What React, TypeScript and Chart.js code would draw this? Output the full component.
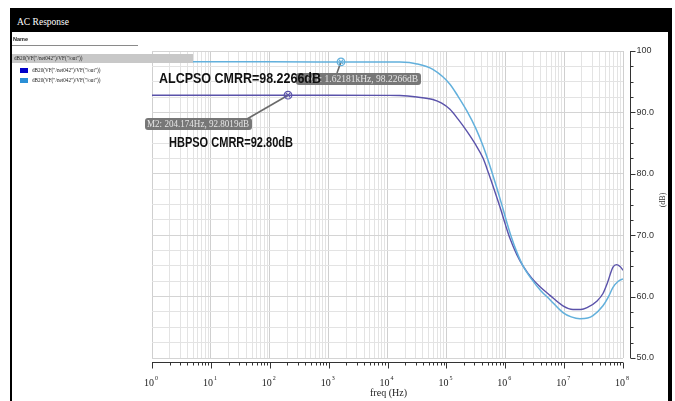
import React, { useEffect, useRef } from "react";
import { Chart, registerables } from "chart.js";

Chart.register(...registerables);

// ---- data ----
const freqALCPSO = [1, 10, 100, 1621.81, 1e4, 1.62e4, 3.16e4, 5.89e4, 1.15e5, 1.58e5, 2.24e5, 3.16e5, 4.17e5, 5.62e5, 7.24e5, 8.91e5, 1.07e6, 1.26e6, 1.58e6, 2.0e6, 2.82e6, 3.98e6, 5.75e6, 9.55e6, 1.32e7, 1.86e7, 2.51e7, 3.09e7, 4.57e7, 5.62e7, 6.76e7, 8.32e7, 1e8];
const dbALCPSO = [98.23, 98.23, 98.23, 98.2266, 98.22, 98.2, 97.9, 97.0, 94.6, 92.6, 90.2, 87.4, 84.6, 81.0, 77.6, 74.7, 72.0, 69.8, 67.2, 65.0, 62.8, 61.0, 59.5, 57.4, 56.7, 56.4, 56.5, 56.9, 58.5, 59.9, 61.5, 62.5, 62.9];

const freqHBPSO = [1, 10, 100, 204.174, 1e3, 1e4, 1.62e4, 3.16e4, 5.89e4, 8.32e4, 1.15e5, 1.58e5, 2.24e5, 3.16e5, 4.17e5, 5.25e5, 6.61e5, 8.32e5, 1.0e6, 1.2e6, 1.58e6, 2.0e6, 2.82e6, 3.89e6, 5.75e6, 9.55e6, 1.41e7, 1.91e7, 2.45e7, 3.63e7, 4.57e7, 5.37e7, 6.76e7, 7.76e7, 8.91e7, 1e8];
const dbHBPSO = [92.8, 92.8, 92.8, 92.8019, 92.8, 92.78, 92.75, 92.5, 92.1, 91.5, 90.5, 88.9, 86.9, 84.7, 82.6, 80.0, 77.2, 74.3, 71.8, 69.5, 66.8, 65.0, 63.0, 61.6, 60.2, 58.5, 57.9, 57.9, 58.2, 59.3, 60.5, 62.1, 64.8, 65.2, 64.9, 64.3];

const markerFreqs = [1621.81, 204.174];
const markerDbs = [98.2266, 92.8019];
const markerLabels = ["M1: 1.62181kHz, 98.2266dB", "M2: 204.174Hz, 92.8019dB"];
const annotationTexts = ["ALCPSO CMRR=98.2266dB", "HBPSO CMRR=92.80dB"];

const xDecadeExponents = [0, 1, 2, 3, 4, 5, 6, 7, 8];
const xMinorMultipliers = [1, 2, 3, 4, 5, 6, 7, 8, 9];
const yGridValues = [50, 52.5, 55, 57.5, 60, 62.5, 65, 67.5, 70, 72.5, 75, 77.5, 80, 82.5, 85, 87.5, 90, 92.5, 95, 97.5, 100];
const yTickValues = [100, 90, 80, 70, 60, 50];
const yTickLabels = ["100", "90.0", "80.0", "70.0", "60.0", "50.0"];
const xAxisTitle = "freq (Hz)";
const yAxisTitle = "(dB)";
const legendName = 'dB20(VF("/net042")/VF("/out"))';

const COLOR_A = "#62b0dc";
const COLOR_B = "#5a52aa";

function fitText(ctx: CanvasRenderingContext2D, text: string, x: number, y: number, width: number, alignRight = false) {
  const w = ctx.measureText(text).width;
  const sx = w > width ? width / w : 1;
  ctx.save();
  ctx.translate(x, y);
  ctx.scale(sx, 1);
  ctx.textAlign = alignRight ? "right" : "left";
  ctx.fillText(text, 0, 0);
  ctx.restore();
}

function roundRect(ctx: CanvasRenderingContext2D, x: number, y: number, w: number, h: number, r: number) {
  ctx.beginPath();
  ctx.moveTo(x + r, y);
  ctx.lineTo(x + w - r, y);
  ctx.quadraticCurveTo(x + w, y, x + w, y + r);
  ctx.lineTo(x + w, y + h - r);
  ctx.quadraticCurveTo(x + w, y + h, x + w - r, y + h);
  ctx.lineTo(x + r, y + h);
  ctx.quadraticCurveTo(x, y + h, x, y + h - r);
  ctx.lineTo(x, y + r);
  ctx.quadraticCurveTo(x, y, x + r, y);
  ctx.closePath();
}

const overlayPlugin = {
  id: "overlay",
  afterDraw(chart: any) {
    const ctx: CanvasRenderingContext2D = chart.ctx;
    const xs = chart.scales.x;
    const ys = chart.scales.y;
    const area = chart.chartArea;
    ctx.save();

    // ---- bottom axis ----
    const axY = Math.round(area.bottom) + 4.5;
    ctx.strokeStyle = "#333";
    ctx.lineWidth = 1;
    ctx.beginPath();
    ctx.moveTo(area.left, axY);
    ctx.lineTo(area.right, axY);
    ctx.stroke();
    xDecadeExponents.forEach((d) => {
      xMinorMultipliers.forEach((m) => {
        if (d === 8 && m > 1) return;
        const x = Math.round(xs.getPixelForValue(m * Math.pow(10, d))) + 0.5;
        const len = m === 1 ? 6 : 3;
        ctx.beginPath();
        ctx.moveTo(x, axY);
        ctx.lineTo(x, axY + len);
        ctx.stroke();
      });
      const x = xs.getPixelForValue(Math.pow(10, d));
      ctx.fillStyle = "#222";
      ctx.font = "10px 'Liberation Serif'";
      ctx.textAlign = "right";
      ctx.textBaseline = "alphabetic";
      ctx.fillText("10", x + 2, 386);
      ctx.font = "6px 'Liberation Serif'";
      ctx.textAlign = "left";
      ctx.fillText(String(d), x + 3, 380);
    });
    ctx.font = "10px 'Liberation Serif'";
    ctx.textAlign = "center";
    ctx.fillStyle = "#222";
    ctx.fillText(xAxisTitle, xs.getPixelForValue(1e4) + 1, 396);

    // ---- right axis ----
    const axX = Math.round(area.right) + 7.5;
    ctx.beginPath();
    ctx.moveTo(axX, ys.getPixelForValue(100));
    ctx.lineTo(axX, ys.getPixelForValue(50));
    ctx.stroke();
    yGridValues.forEach((v) => {
      const y = Math.round(ys.getPixelForValue(v)) + 0.5;
      const major = v % 10 === 0;
      ctx.beginPath();
      ctx.moveTo(axX, y);
      ctx.lineTo(axX + (major ? 5 : 3), y);
      ctx.stroke();
    });
    ctx.font = "9px 'Liberation Sans'";
    ctx.textAlign = "left";
    ctx.textBaseline = "middle";
    ctx.fillStyle = "#333";
    yTickValues.forEach((v, i) => {
      ctx.fillText(yTickLabels[i], axX + 6, ys.getPixelForValue(v));
    });
    ctx.save();
    ctx.translate(663, 200);
    ctx.rotate(-Math.PI / 2);
    ctx.textAlign = "center";
    ctx.font = "8px 'Liberation Serif'";
    ctx.fillText(yAxisTitle, 0, 0);
    ctx.restore();

    // ---- marker labels ----
    const boxes = [
      { x: 296, y: 73, w: 125, h: 12, lx: 337, ly: 73 },
      { x: 145, y: 118, w: 107, h: 12, lx: 247, ly: 119 },
    ];
    markerFreqs.forEach((f, i) => {
      const px = xs.getPixelForValue(f);
      const py = ys.getPixelForValue(markerDbs[i]);
      const b = boxes[i];
      ctx.strokeStyle = "#6a6a6a";
      ctx.lineWidth = 1.6;
      ctx.beginPath();
      ctx.moveTo(b.lx, b.ly);
      ctx.lineTo(px, py);
      ctx.stroke();
      ctx.fillStyle = "rgba(112,112,112,0.95)";
      roundRect(ctx, b.x, b.y, b.w, b.h, 3);
      ctx.fill();
      ctx.fillStyle = "#e6e6e6";
      ctx.font = "9.5px 'Liberation Serif'";
      ctx.textBaseline = "middle";
      fitText(ctx, markerLabels[i], b.x + b.w - 3, b.y + b.h / 2 + 0.5, b.w - 5, true);
      // marker symbol
      const col = i === 0 ? COLOR_A : COLOR_B;
      ctx.strokeStyle = col;
      ctx.lineWidth = 1.2;
      ctx.beginPath();
      ctx.arc(px, py, 3.8, 0, Math.PI * 2);
      ctx.stroke();
      ctx.beginPath();
      ctx.moveTo(px - 2.5, py - 2.5);
      ctx.lineTo(px + 2.5, py + 2.5);
      ctx.moveTo(px + 2.5, py - 2.5);
      ctx.lineTo(px - 2.5, py + 2.5);
      ctx.stroke();
    });

    // ---- bold annotations ----
    ctx.fillStyle = "#111";
    ctx.font = "bold 14px 'Liberation Sans'";
    ctx.textBaseline = "middle";
    fitText(ctx, annotationTexts[0], 159, 79, 162);
    fitText(ctx, annotationTexts[1], 169, 143, 124);

    ctx.restore();
  },
};

export default function App() {
  const canvasRef = useRef<HTMLCanvasElement | null>(null);

  useEffect(() => {
    document.body.style.margin = "0";
    const canvas = canvasRef.current;
    if (!canvas) return;
    const chart = new Chart(canvas, {
      type: "line",
      data: {
        datasets: [
          {
            label: "ALCPSO",
            data: freqALCPSO.map((f, i) => ({ x: f, y: dbALCPSO[i] })),
            borderColor: COLOR_A,
            borderWidth: 1.5,
            pointRadius: 0,
            cubicInterpolationMode: "monotone",
            fill: false,
          },
          {
            label: "HBPSO",
            data: freqHBPSO.map((f, i) => ({ x: f, y: dbHBPSO[i] })),
            borderColor: COLOR_B,
            borderWidth: 1.4,
            pointRadius: 0,
            cubicInterpolationMode: "monotone",
            fill: false,
          },
        ],
      },
      options: {
        animation: false,
        responsive: false,
        devicePixelRatio: 1,
        events: [],
        layout: { padding: { left: 152, right: 52, top: 51, bottom: 43 } },
        plugins: { legend: { display: false }, tooltip: { enabled: false } },
        scales: {
          x: {
            type: "logarithmic",
            min: 1,
            max: 1e8,
            afterBuildTicks: (scale: any) => {
              const t: any[] = [];
              xDecadeExponents.forEach((d) => {
                xMinorMultipliers.forEach((m) => {
                  if (d === 8 && m > 1) return;
                  t.push({ value: m * Math.pow(10, d), major: m === 1 });
                });
              });
              scale.ticks = t;
            },
            ticks: { display: false, autoSkip: false },
            border: { display: false },
            grid: {
              drawTicks: false,
              tickLength: 0,
              lineWidth: 1,
              color: (c: any) => {
                const v = c.tick ? c.tick.value : 0;
                const l = Math.log10(v);
                return Math.abs(l - Math.round(l)) < 1e-6 ? "#cfcfcf" : "#e3e3e3";
              },
            },
          },
          y: {
            type: "linear",
            min: 50,
            max: 100,
            afterBuildTicks: (scale: any) => {
              scale.ticks = yGridValues.map((v) => ({ value: v }));
            },
            ticks: { display: false },
            border: { display: false },
            grid: {
              drawTicks: false,
              tickLength: 0,
              color: (c: any) => {
                const v = c.tick ? c.tick.value : 0;
                return v % 10 === 0 ? "#d4d4d4" : "#e3e3e3";
              },
            },
          },
        },
      },
      plugins: [overlayPlugin],
    } as any);
    return () => chart.destroy();
  }, []);

  const abs = (s: React.CSSProperties): React.CSSProperties => ({ position: "absolute", ...s });

  return (
    <div style={abs({ left: 0, top: 0, width: 675, height: 401, background: "#fff", overflow: "hidden" })}>
      <canvas ref={canvasRef} width={675} height={401} style={abs({ left: 0, top: 0, width: 675, height: 401 })} />
      {/* frame */}
      <div style={abs({ left: 10, top: 8, width: 662, height: 24, background: "#000" })} />
      <div style={abs({ left: 17, top: 16, color: "#fff", font: "9.5px 'Liberation Serif'", lineHeight: "12px", whiteSpace: "nowrap" })}>
        AC Response
      </div>
      <div style={abs({ left: 10, top: 8, width: 2, height: 393, background: "#000" })} />
      <div style={abs({ left: 668, top: 8, width: 4, height: 393, background: "#000" })} />
      {/* name panel */}
      <div style={abs({ left: 13, top: 36, color: "#222", font: "bold 5.5px 'Liberation Sans'", lineHeight: "7px" })}>Name</div>
      <div style={abs({ left: 12, top: 45, width: 126, height: 1, background: "#8a8a8a" })} />
      <div style={abs({ left: 12, top: 54, width: 181, height: 9, background: "#c8c8c8" })} />
      <div style={abs({ left: 14, top: 55, color: "#222", font: "5.2px 'Liberation Serif'", lineHeight: "7px", whiteSpace: "nowrap" })}>
        {legendName}
      </div>
      <div style={abs({ left: 20, top: 68, width: 8, height: 5, background: "#0000c8" })} />
      <div style={abs({ left: 32, top: 67, color: "#222", font: "5.2px 'Liberation Serif'", lineHeight: "7px", whiteSpace: "nowrap" })}>
        {legendName}
      </div>
      <div style={abs({ left: 20, top: 78, width: 8, height: 5, background: "#2a8fd6" })} />
      <div style={abs({ left: 32, top: 77, color: "#222", font: "5.2px 'Liberation Serif'", lineHeight: "7px", whiteSpace: "nowrap" })}>
        {legendName}
      </div>
    </div>
  );
}
